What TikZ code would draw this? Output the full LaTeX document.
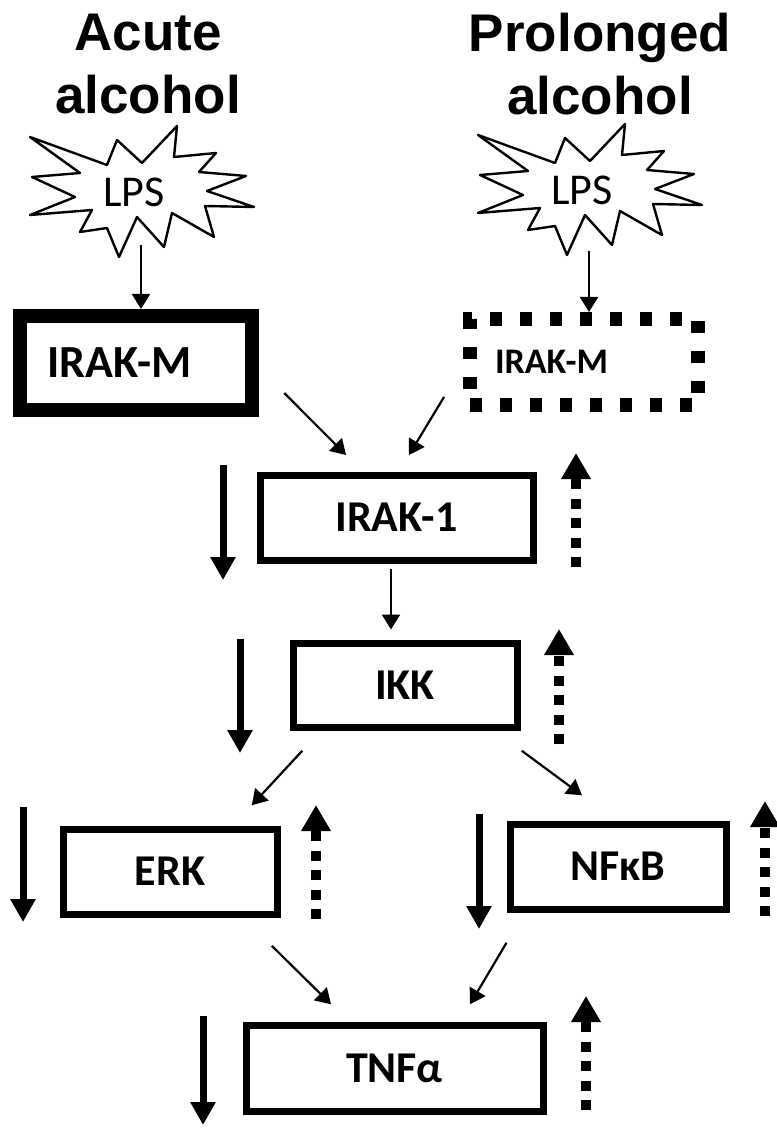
\documentclass[tikz,border=0pt]{standalone}
\usepackage{fontspec}
\setmainfont{Carlito}
\newfontfamily\headfont{Liberation Sans}
\usetikzlibrary{arrows.meta}

\tikzset{
  head/.style={font=\headfont\bfseries\fontsize{26.5}{31.5}\selectfont, align=center, inner sep=0pt},
  lps/.style={font=\fontsize{22}{26}\selectfont, inner sep=0pt},
  burst/.style={draw, line width=1.2pt, line join=round},
  box/.style={draw, line width=3.5pt, inner sep=0pt, minimum height=42.5pt,
    font=\bfseries\fontsize{22}{26}\selectfont},
  link/.style={line width=1.1pt, -{Triangle[length=7.5pt, width=9pt]}},
  downarr/.style={line width=3.5pt, -{Triangle[length=11.5pt, width=12pt]}},
  uparr/.style={line width=5pt, dash pattern=on 5pt off 4.75pt, -{Triangle[length=13pt, width=14pt]}}
}

\begin{document}
\begin{tikzpicture}[x=0.5pt, y=-0.5pt]
  \useasboundingbox (0,0) rectangle (776,1128);

  % headings
  \node[head] (acute) at (148,64.5) {Acute\\alcohol};
  \node[head] (prolonged) at (600,64.5) {Prolonged\\alcohol};

  % LPS bursts
  \foreach \dx/\dy in {0/0, 448/-2}
    \draw[burst, shift={(\dx,\dy)}] (30,137) -- (107,165) -- (117,140) -- (142,163) -- (177,126)
      -- (174,157) -- (216,153) -- (199,172) -- (246,176) -- (207,191) -- (254,207) -- (205,206)
      -- (214,237) -- (172,213) -- (164,247) -- (137,217) -- (119,257) -- (107,228) -- (80,232)
      -- (92,210) -- (30,215) -- (75,197) -- (32,177) -- (80,173) -- cycle;
  \node[lps] (lpsA) at (134,192) {LPS};
  \node[lps] (lpsP) at (582,190) {LPS};
  \coordinate (tailA) at (141,245);
  \coordinate (tailP) at (589,251);

  % pathway boxes
  \node[box, line width=7pt, minimum height=47pt, inner xsep=13.75pt, text width=88.75pt, align=left,
    font=\bfseries\fontsize{23}{27}\selectfont] (irakmA) at (136,363) {IRAK-M};
  \node[box, line width=7pt, dash pattern=on 6pt off 9pt, minimum height=43pt, inner xsep=12.5pt,
    text width=89pt, align=left, font=\bfseries\fontsize{18}{22}\selectfont] (irakmP) at (584,362) {IRAK-M};
  \node[box, minimum width=136.5pt] (irak1) at (396.5,517.5) {IRAK-1};
  \node[box, minimum width=112pt, minimum height=42pt] (ikk) at (405,685) {IKK};
  \node[box, minimum width=107pt] (erk) at (170,871.5) {ERK};
  \node[box, minimum width=108pt] (nfkb) at (618,866.5) {NFκB};
  \node[box, minimum width=148.5pt, minimum height=43pt] (tnf) at (394.5,1068) {TNFα};

  % signalling links
  \draw[link] (tailA) -- (tailA |- irakmA.north);
  \draw[link] (tailP) -- (tailP |- irakmP.north);
  \draw[link] ([shift={(25,-24)}]irakmA.south east) -- ([shift={(-50.5,-16.5)}]irak1.north);
  \draw[link] ([shift={(-19,-15)}]irakmP.south west) -- ([shift={(12.5,-16.5)}]irak1.north);
  \draw[link] ([shift={(-5.5,5.5)}]irak1.south) -- ([shift={(-14,-10)}]ikk.north);
  \draw[link] ([shift={(12.75,20.25)}]ikk.south west) -- ([shift={(-28.75,-20.25)}]erk.north east);
  \draw[link] ([shift={(1.25,20.25)}]ikk.south east) -- ([shift={(-36,-25.25)}]nfkb.north);
  \draw[link] ([shift={(-8.75,28.25)}]erk.south east) -- ([shift={(-63.5,-17.25)}]tnf.north);
  \draw[link] ([shift={(0,30.25)}]nfkb.south west) -- ([shift={(75.5,-17.25)}]tnf.north);

  % acute: down, prolonged: up
  \foreach \x/\a/\b in {223/465/580, 240/639/753, 23/807/922, 479/814/929, 203/1016/1125}
    \draw[downarr] (\x,\a) -- (\x,\b);
  \foreach \x/\a/\b in {576/567/453, 559/744/629, 316/919/805, 765/916/801, 586/1110/996}
    \draw[uparr] (\x,\a) -- (\x,\b);
\end{tikzpicture}
\end{document}
